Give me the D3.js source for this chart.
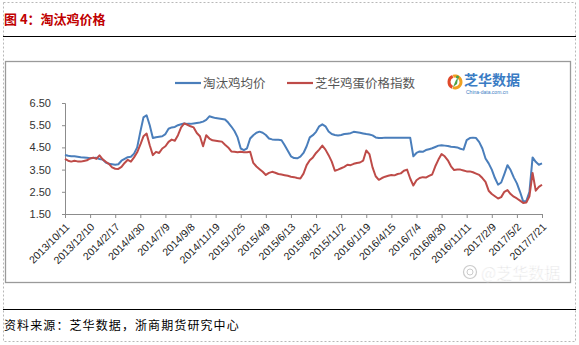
<!DOCTYPE html>
<html>
<head>
<meta charset="utf-8">
<script src="https://cdn.jsdelivr.net/npm/d3@7/dist/d3.min.js"></script>
<style>
  html, body { margin: 0; padding: 0; background: #fff; }
  svg { display: block; }
</style>
</head>
<body>
<svg id="chart" width="579" height="345"></svg>
<script>
// Date labels shown on the category axis (one every 8 observations)
const dateLabels = [
  "2013/10/11", "2013/12/10", "2014/2/17", "2014/4/30", "2014/7/9",
  "2014/9/8", "2014/11/19", "2015/1/25", "2015/4/9", "2015/6/13",
  "2015/8/12", "2015/11/2", "2016/1/19", "2016/4/15", "2016/7/4",
  "2016/8/30", "2016/11/11", "2017/2/9", "2017/5/2", "2017/7/21"
];
const labelStep = 8;

// 淘汰鸡均价 (yuan / jin)
const henPrice = [
  4.16, 4.12, 4.10, 4.10, 4.08, 4.06, 4.05, 4.03, 4.01, 4.02,
  4.03, 3.98, 3.95, 3.82, 3.76, 3.74, 3.72, 3.74, 3.90, 3.98,
  4.06, 4.08, 4.22, 4.50, 5.20, 5.85, 5.95, 5.50, 4.92, 4.96,
  4.98, 5.00, 5.10, 5.34, 5.40, 5.42, 5.50, 5.54, 5.58, 5.56,
  5.56, 5.58, 5.60, 5.62, 5.66, 5.74, 5.90, 5.86, 5.82, 5.80,
  5.78, 5.76, 5.62, 5.44, 5.24, 4.95, 4.45, 4.38, 4.46, 4.90,
  5.05, 5.16, 5.21, 5.16, 5.06, 4.90, 4.86, 4.85, 4.84, 4.82,
  4.60, 4.35, 4.10, 4.02, 4.01, 4.08, 4.25, 4.55, 4.95, 5.05,
  5.20, 5.45, 5.54, 5.45, 5.22, 5.10, 5.06, 5.04, 5.06, 5.10,
  5.12, 5.14, 5.20, 5.18, 5.16, 5.13, 5.10, 5.08, 5.04, 4.95,
  4.92, 4.92, 4.94, 4.94, 4.94, 4.94, 4.94, 4.94, 4.94, 4.94,
  4.94, 4.10, 4.25, 4.32, 4.30, 4.38, 4.42, 4.46, 4.52, 4.58,
  4.60, 4.58, 4.56, 4.53, 4.52, 4.50, 4.44, 4.40, 4.83, 4.92,
  4.94, 4.92, 4.74, 4.45, 4.00, 3.78, 3.50, 3.12, 2.82, 2.92,
  3.30, 3.70, 3.48, 3.15, 2.88, 2.50, 2.07, 2.08, 2.50, 4.05,
  3.85, 3.72, 3.78
];

// 芝华鸡蛋价格指数
const eggIndex = [
  3.98, 3.90, 3.86, 3.90, 3.87, 3.86, 3.89, 3.92, 4.00, 4.04,
  3.98, 4.14, 3.96, 3.85, 3.76, 3.60, 3.54, 3.53, 3.62, 3.80,
  3.94, 3.86, 4.05, 4.28, 4.62, 5.00, 5.12, 4.60, 4.15, 4.30,
  4.25, 4.45, 4.55, 4.75, 4.85, 4.80, 5.05, 5.40, 5.58, 5.52,
  5.45, 5.40, 5.15, 5.00, 4.55, 5.05, 4.90, 4.82, 4.80, 4.78,
  4.76, 4.62, 4.50, 4.32, 4.30, 4.28, 4.30, 4.28, 4.28, 4.30,
  3.80, 3.64, 3.52, 3.40, 3.26, 3.35, 3.40, 3.36, 3.30, 3.28,
  3.25, 3.22, 3.18, 3.16, 3.12, 3.10, 3.32, 3.70, 3.92, 4.05,
  4.25, 4.40, 4.58, 4.40, 4.15, 3.86, 3.45, 3.50, 3.56, 3.62,
  3.72, 3.70, 3.76, 3.80, 3.82, 3.90, 4.36, 4.20, 3.60, 3.20,
  3.04, 3.12, 3.18, 3.22, 3.26, 3.24, 3.30, 3.33, 3.45, 3.50,
  3.10, 2.78, 3.02, 3.12, 3.16, 3.14, 3.22, 3.28, 3.65, 3.95,
  4.20, 4.10, 3.92, 3.65, 3.48, 3.50, 3.50, 3.46, 3.42, 3.42,
  3.38, 3.32, 3.26, 3.12, 2.95, 2.55, 2.40, 2.30, 2.20, 2.26,
  2.50, 2.58, 2.40, 2.28, 2.20, 2.10, 2.00, 2.02, 2.30, 3.35,
  2.55, 2.72, 2.82
];

const yTicks = [1.5, 2.5, 3.5, 4.5, 5.5, 6.5];
const seriesNames = ["淘汰鸡均价", "芝华鸡蛋价格指数"];
const seriesColors = ["#4a7ebb", "#be4b48"];

const svg = d3.select("#chart");

// Page frame: dashed outer border, title, rules
svg.append("rect")
  .attr("x", 3.5).attr("y", 2.5).attr("width", 572).attr("height", 339)
  .attr("fill", "none").attr("stroke", "#b8b8b8")
  .attr("stroke-dasharray", "2,2").attr("stroke-width", 1);

svg.append("text")
  .attr("x", 4).attr("y", 24)
  .attr("font-family", "'Noto Sans CJK SC', sans-serif")
  .attr("font-size", 13).attr("font-weight", "bold")
  .attr("fill", "#c00000")
  .text("图 4：淘汰鸡价格");

svg.append("line")
  .attr("x1", 3).attr("x2", 576).attr("y1", 36.5).attr("y2", 36.5)
  .attr("stroke", "#000").attr("stroke-width", 1.2);

svg.append("line")
  .attr("x1", 3).attr("x2", 576).attr("y1", 309.5).attr("y2", 309.5)
  .attr("stroke", "#000").attr("stroke-width", 1.2);

svg.append("text")
  .attr("x", 4).attr("y", 330)
  .attr("font-family", "'Noto Sans CJK SC', sans-serif")
  .attr("font-size", 12).attr("letter-spacing", 1.1)
  .attr("fill", "#000")
  .text("资料来源：芝华数据，浙商期货研究中心");

// Chart box
svg.append("rect")
  .attr("x", 5.5).attr("y", 61.5).attr("width", 565).attr("height", 221)
  .attr("fill", "#fff").attr("stroke", "#9a9a9a").attr("stroke-width", 1.3);

// Scales
const x = d3.scaleLinear().domain([0, henPrice.length - 1]).range([65, 542]);
const y = d3.scaleLinear().domain([1.5, 6.5]).range([214, 103]);

// Watermark (sits beneath axis labels)
const wm = svg.append("g").attr("opacity", 0.5);
wm.append("circle").attr("cx", 470).attr("cy", 272).attr("r", 6.5)
  .attr("fill", "none").attr("stroke", "#999").attr("stroke-width", 1.2);
wm.append("circle").attr("cx", 470).attr("cy", 272).attr("r", 3)
  .attr("fill", "none").attr("stroke", "#999").attr("stroke-width", 1);
wm.append("text")
  .attr("x", 481).attr("y", 279)
  .attr("font-family", "'Noto Sans CJK SC', sans-serif")
  .attr("font-size", 16)
  .attr("fill", "#bdbdbd").attr("stroke", "#fff").attr("stroke-width", 0.6)
  .text("@芝华数据");

// Y axis
const yAxis = svg.append("g")
  .attr("transform", "translate(65,0)")
  .call(d3.axisLeft(y).tickValues(yTicks).tickFormat(d3.format(".2f")).tickSize(3).tickPadding(11));
yAxis.select(".domain").attr("stroke", "#8c8c8c");
yAxis.selectAll(".tick line").attr("stroke", "#8c8c8c");
yAxis.selectAll("text")
  .attr("font-family", "'Liberation Sans', Arial, sans-serif")
  .attr("font-size", 11).attr("fill", "#333");

// X axis
const xAxis = svg.append("g")
  .attr("transform", "translate(0,214)")
  .call(d3.axisBottom(x)
    .tickValues(d3.range(0, henPrice.length, labelStep))
    .tickFormat(i => dateLabels[i / labelStep])
    .tickSize(4).tickSizeOuter(0));
xAxis.select(".domain").attr("stroke", "#8c8c8c");
xAxis.selectAll(".tick line").attr("stroke", "#8c8c8c");
xAxis.selectAll("text")
  .attr("font-family", "'Liberation Sans', Arial, sans-serif")
  .attr("font-size", 10.5).attr("fill", "#222")
  .attr("text-anchor", "end")
  .attr("transform", "translate(2,11) rotate(-45)")
  .attr("dy", "0.35em").attr("y", 0).attr("x", 0);

// Lines
const line = d3.line().x((d, i) => x(i)).y(d => y(d));
[henPrice, eggIndex].forEach((s, k) => {
  svg.append("path")
    .datum(s)
    .attr("fill", "none")
    .attr("stroke", seriesColors[k])
    .attr("stroke-width", 2)
    .attr("stroke-linejoin", "round")
    .attr("d", line);
});

// Legend
const legendX = [175, 287];
seriesNames.forEach((name, k) => {
  svg.append("line")
    .attr("x1", legendX[k]).attr("x2", legendX[k] + 26)
    .attr("y1", 83).attr("y2", 83)
    .attr("stroke", seriesColors[k]).attr("stroke-width", 2.2);
  svg.append("text")
    .attr("x", legendX[k] + 28).attr("y", 87.5)
    .attr("font-family", "'Noto Sans CJK SC', sans-serif")
    .attr("font-size", 12.5).attr("fill", "#555")
    .text(name);
});

// Brand mark
const logo = svg.append("g").attr("transform", "translate(455,82)");
logo.append("path")
  .attr("d", d3.arc()({ innerRadius: 4.5, outerRadius: 7.5, startAngle: -0.3, endAngle: 3.5 }))
  .attr("fill", "#f0a020");
logo.append("path")
  .attr("d", d3.arc()({ innerRadius: 4.5, outerRadius: 7.5, startAngle: 3.6, endAngle: 5.9 }))
  .attr("fill", "#e04a2a");
logo.append("path")
  .attr("d", "M-2,5 L1,-2 L3,-4 L2,2 Z")
  .attr("fill", "#4aa04a");
logo.append("circle").attr("cx", 2.5).attr("cy", -5).attr("r", 1.6).attr("fill", "#4aa04a");
svg.append("text")
  .attr("x", 464).attr("y", 85)
  .attr("font-family", "'Noto Sans CJK SC', sans-serif")
  .attr("font-size", 14).attr("font-weight", "bold")
  .attr("fill", "#3a7cc4")
  .text("芝华数据");
svg.append("text")
  .attr("x", 466).attr("y", 93.5)
  .attr("font-family", "'Liberation Sans', Arial, sans-serif")
  .attr("font-size", 5).attr("fill", "#3a7cc4")
  .text("China-data.com.cn");
</script>
</body>
</html>
